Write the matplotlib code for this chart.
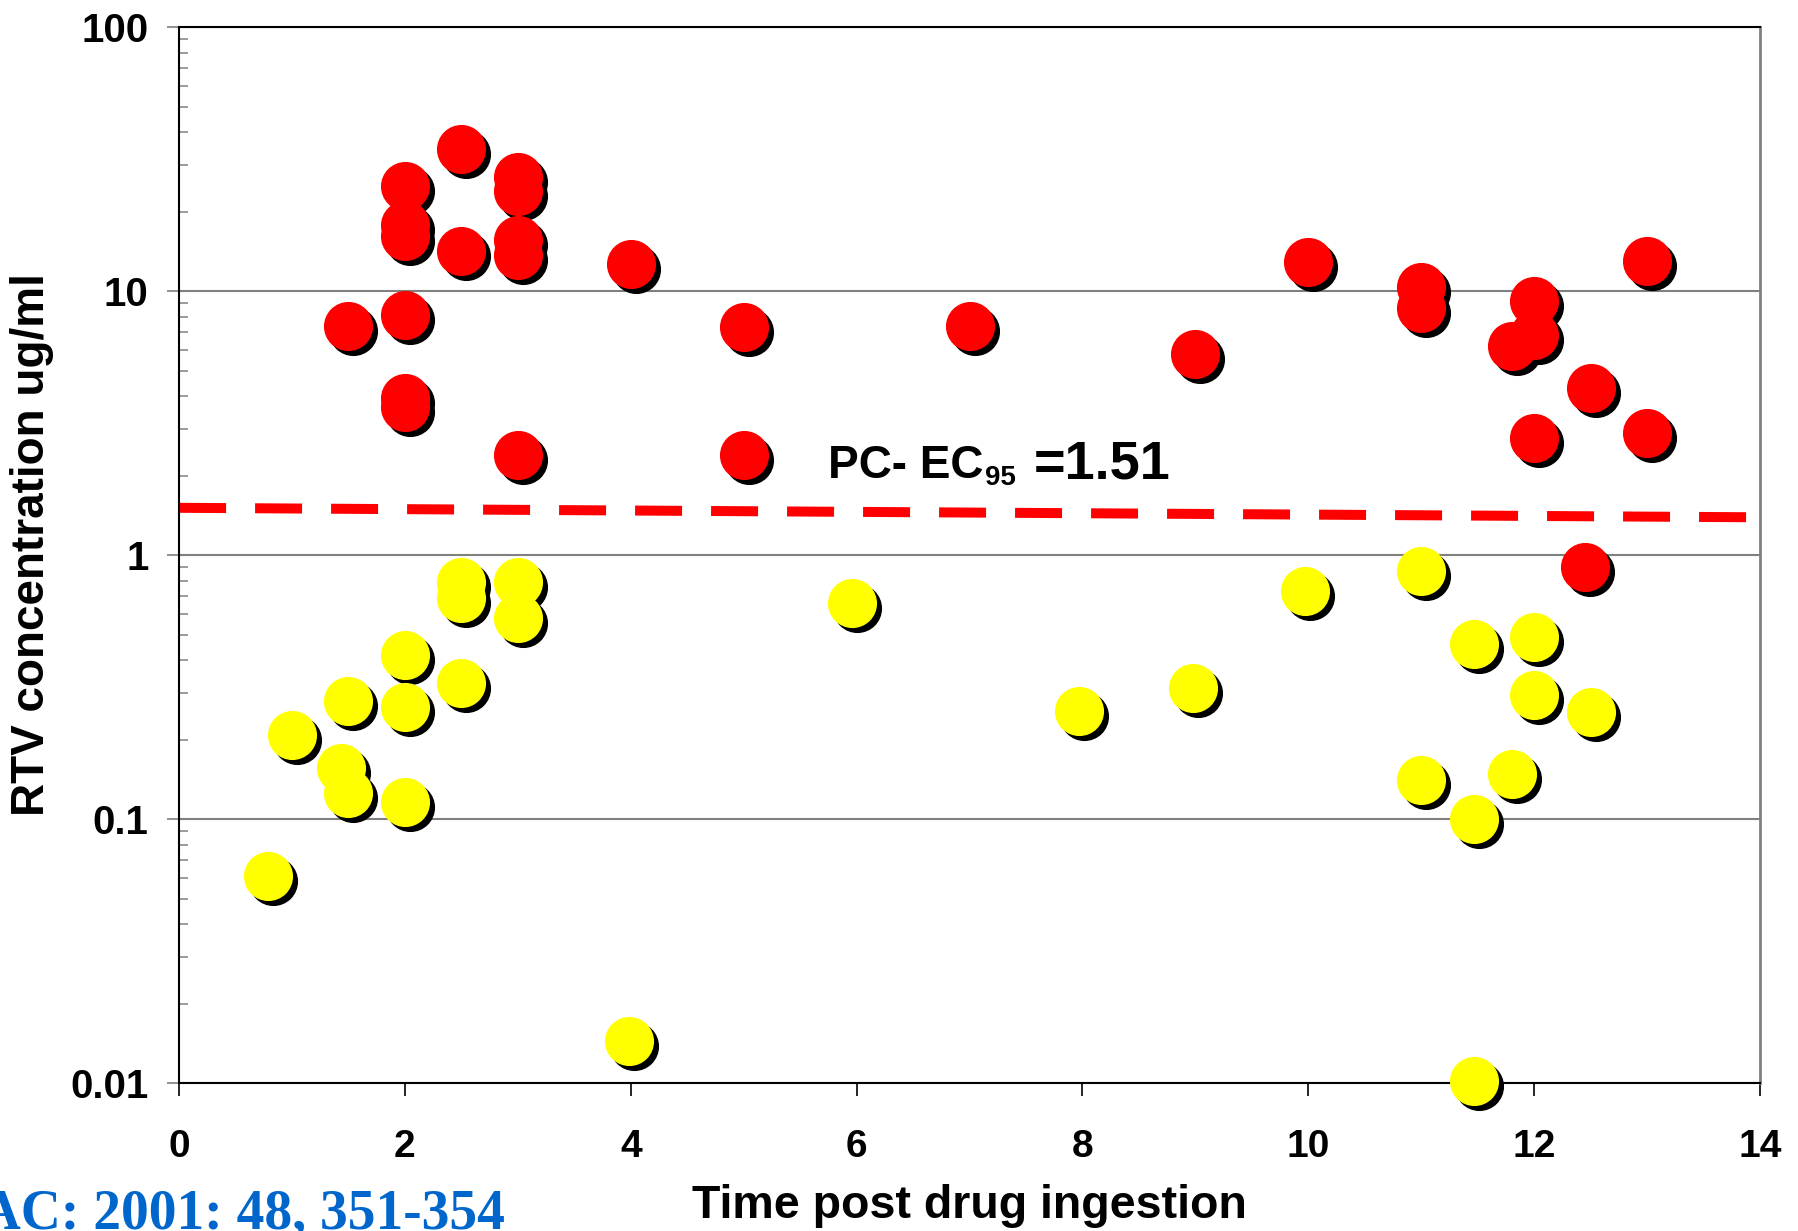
import matplotlib
matplotlib.use("Agg")
import matplotlib.pyplot as plt
import matplotlib.transforms as mtransforms
from matplotlib.ticker import FixedLocator, LogLocator, NullFormatter

# hours after dose and ritonavir concentration (ug/ml)
red_hours = [1.5, 2, 2, 2, 2, 2, 2, 2.5, 2.5, 3, 3, 3, 3, 3, 4, 5, 5, 7, 9, 10,
             11, 11, 11.8, 12, 12, 12, 12.5, 12.45, 13, 13]
red_conc = [7.36, 25, 17.8, 16.2, 8.1, 3.95, 3.65, 34.5, 14.2, 27, 24, 15.6, 13.7, 2.4,
            12.7, 7.3, 2.39, 7.4, 5.8, 12.9, 10.4, 8.6, 6.2, 9.2, 6.8, 2.77, 4.3, 0.9,
            2.9, 13]

yellow_hours = [0.79, 1, 1.5, 1.43, 1.5, 2, 2, 2, 2.5, 2.5, 2.5, 3, 3, 3.98, 5.96, 7.97,
                8.98, 9.97, 11, 11, 11.47, 11.47, 11.47, 11.8, 12, 12, 12.5]
yellow_conc = [0.061, 0.208, 0.28, 0.156, 0.126, 0.418, 0.265, 0.116, 0.79, 0.687, 0.327,
               0.79, 0.577, 0.0144, 0.66, 0.256, 0.313, 0.73, 0.87, 0.14, 0.46, 0.1,
               0.0102, 0.148, 0.49, 0.295, 0.254]

# PC-EC95 cut-off line (ends as drawn in the original slide)
ec95_hours = [0, 14]
ec95_conc = [1.51, 1.39]

y_ticks = [0.01, 0.1, 1, 10, 100]
y_tick_labels = ["0.01", "0.1", "1", "10", "100"]
x_ticks = [0, 2, 4, 6, 8, 10, 12, 14]

plt.rcParams["font.family"] = ["Liberation Sans", "DejaVu Sans"]
plt.rcParams["font.weight"] = "bold"

fig = plt.figure(figsize=(17.98, 12.31), dpi=100)
ax = fig.add_axes([0.0996, 0.1202, 0.8793, 0.8578])

ax.set_yscale("log")
ax.set_xlim(0, 14)
ax.set_ylim(0.01, 100)

# grey grid on the decades
ax.yaxis.grid(True, which="major", color="#808080", lw=1.5, zorder=0)
ax.set_axisbelow(True)

# dashed threshold line
ax.plot(ec95_hours, ec95_conc, color="#ff0000", lw=7.2, dashes=(4.7, 2.9),
        dash_capstyle="butt", zorder=2)

# dots with a black drop shadow
shadow = mtransforms.offset_copy(ax.transData, fig=fig, x=5, y=-5, units="dots")
msize = 1250
for hrs, conc, col in [(red_hours, red_conc, "#ff0000"),
                       (yellow_hours, yellow_conc, "#ffff00")]:
    ax.scatter(hrs, conc, s=msize, color="black", lw=0, transform=shadow,
               zorder=3, clip_on=False)
for hrs, conc, col in [(red_hours, red_conc, "#ff0000"),
                       (yellow_hours, yellow_conc, "#ffff00")]:
    ax.scatter(hrs, conc, s=msize, color=col, lw=0, zorder=4, clip_on=False)

# ticks
ax.yaxis.set_major_locator(FixedLocator(y_ticks))
ax.set_yticklabels(y_tick_labels)
ax.yaxis.set_minor_locator(LogLocator(base=10, subs=range(2, 10)))
ax.yaxis.set_minor_formatter(NullFormatter())
ax.set_xticks(x_ticks)
ax.tick_params(axis="y", which="major", direction="out", length=9, width=1.2,
               color="#808080", labelsize=29, pad=13)
ax.tick_params(axis="y", which="minor", direction="in", length=6.5, width=1.1,
               color="#808080")
ax.tick_params(axis="x", which="major", direction="out", length=9, width=1.2,
               color="black", labelsize=28, pad=24)
for t in ax.yaxis.get_major_ticks():
    if t.get_loc() in (0.01, 100):
        t.tick1line.set_color("black")
for lab in ax.get_xticklabels() + ax.get_yticklabels():
    lab.set_fontweight("bold")

for side in ("left", "bottom", "top"):
    ax.spines[side].set_color("black")
    ax.spines[side].set_linewidth(1.5)
ax.spines["right"].set_color("#808080")
ax.spines["right"].set_linewidth(2)

ax.set_xlabel("Time post drug ingestion", fontsize=33.5, fontweight="bold", labelpad=14)
ax.set_ylabel("RTV concentration ug/ml", fontsize=33, fontweight="bold")
ax.yaxis.set_label_coords(-0.079, 0.5095)

# threshold label: "PC- EC" + subscript "95" + "=1.51", laid out one after another
renderer = fig.canvas.get_renderer()
lbl_x, lbl_y = 5.75, 1.957
t1 = ax.text(lbl_x, lbl_y, "PC- EC", fontsize=33, fontweight="bold", va="baseline")
w1 = t1.get_window_extent(renderer).width * 72 / fig.dpi
t2 = ax.annotate("95", xy=(lbl_x, lbl_y), xytext=(w1 + 1, -5), textcoords="offset points",
                 fontsize=20, fontweight="bold", va="baseline")
w2 = t2.get_window_extent(renderer).width * 72 / fig.dpi
ax.annotate("=1.51", xy=(lbl_x, lbl_y), xytext=(w1 + w2 + 14, 0), textcoords="offset points",
            fontsize=39, fontweight="bold", va="baseline")

# journal reference, bottom left
fig.text(505 / 1798, 2 / 1231, "JAC: 2001: 48, 351-354", ha="right", va="baseline",
         color="#0066cc", fontsize=40, fontweight="bold",
         family=["Liberation Serif", "DejaVu Serif"])

fig.savefig("out.png", dpi=100)
